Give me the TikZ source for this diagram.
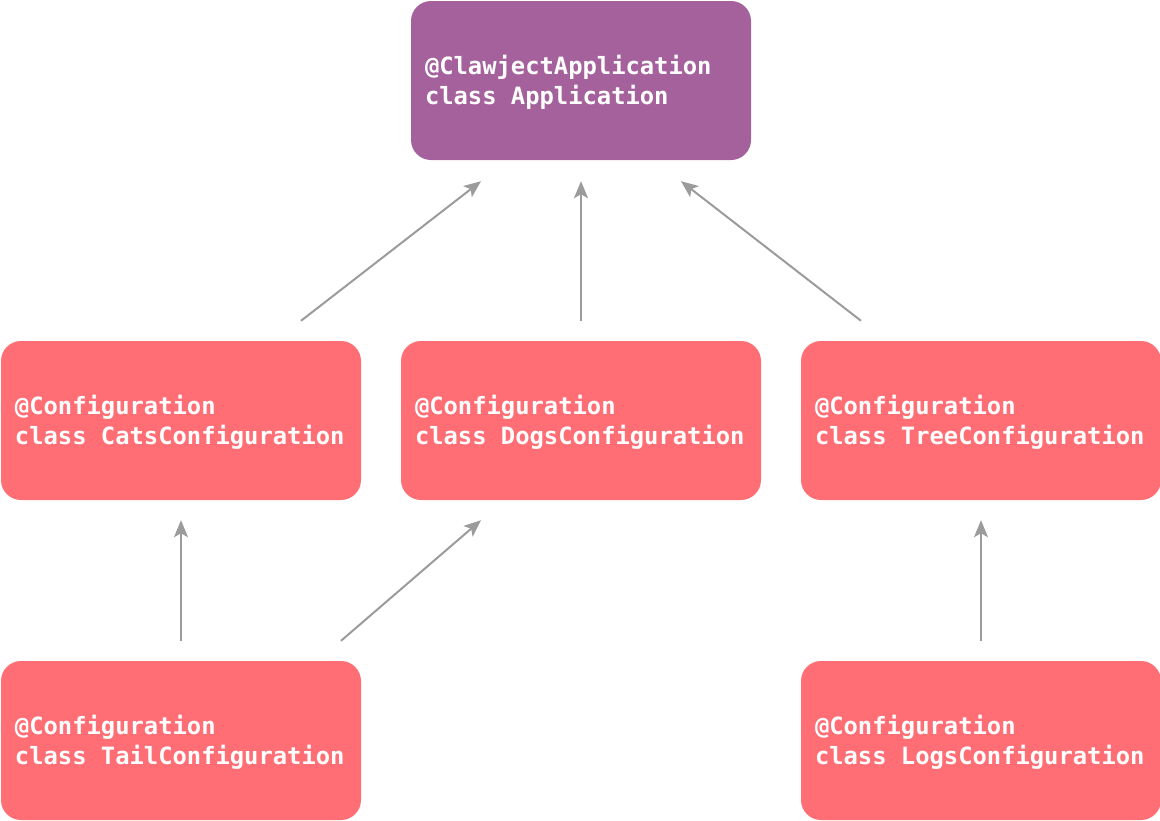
\documentclass[tikz,border=0pt]{standalone}
\usepackage{fontspec}
\setmonofont{DejaVu Sans Mono}
\usetikzlibrary{arrows.meta, positioning}
\definecolor{apppurple}{HTML}{A5619C}
\definecolor{cfgred}{HTML}{FF6E74}
\definecolor{depgray}{HTML}{9B9B9B}
\newcommand{\cfgfont}{\fontsize{23.8}{30}\selectfont\ttfamily\bfseries}
\newcommand{\cfgsp}{\hspace{0.602em}}
\tikzset{
    appbox/.style={rectangle, rounded corners=20pt, fill=apppurple, draw=none, minimum width=340pt, minimum height=159pt, inner xsep=14pt, text width=312pt, text height=23pt, align=left, text=white, font=\cfgfont},
    cfgbox/.style={appbox, fill=cfgred, minimum width=360pt, text width=332pt},
    deparrow/.style={-{Stealth[length=17pt,width=14pt,inset=4pt]}, line width=2pt, draw=depgray}
}

\begin{document}
\begin{tikzpicture}[x=1pt, y=-1pt]
    \useasboundingbox (0,0) rectangle (1160,820);

    \node[appbox] (app) at (581,80.5) {@ClawjectApplication\\class\cfgsp Application};

    \node[cfgbox] (cats) at (181,420.5) {@Configuration\\class\cfgsp CatsConfiguration};
    \node[cfgbox] (dogs) at (581,420.5) {@Configuration\\class\cfgsp DogsConfiguration};
    \node[cfgbox] (tree) at (981,420.5) {@Configuration\\class\cfgsp TreeConfiguration};

    \node[cfgbox] (tail) at (181,740.5) {@Configuration\\class\cfgsp TailConfiguration};
    \node[cfgbox] (logs) at (981,740.5) {@Configuration\\class\cfgsp LogsConfiguration};

    % Configurations imported by the application
    \draw[deparrow] ([xshift=120pt,yshift=20pt]cats.north) -- ([xshift=-100pt,yshift=-21pt]app.south);
    \draw[deparrow] ([yshift=20pt]dogs.north) -- ([yshift=-21pt]app.south);
    \draw[deparrow] ([xshift=-120pt,yshift=20pt]tree.north) -- ([xshift=100pt,yshift=-21pt]app.south);

    % Nested configurations
    \draw[deparrow] ([yshift=20pt]tail.north) -- ([yshift=-20pt]cats.south);
    \draw[deparrow] ([xshift=160pt,yshift=20pt]tail.north) -- ([xshift=-100pt,yshift=-20pt]dogs.south);
    \draw[deparrow] ([yshift=20pt]logs.north) -- ([yshift=-20pt]tree.south);
\end{tikzpicture}
\end{document}
